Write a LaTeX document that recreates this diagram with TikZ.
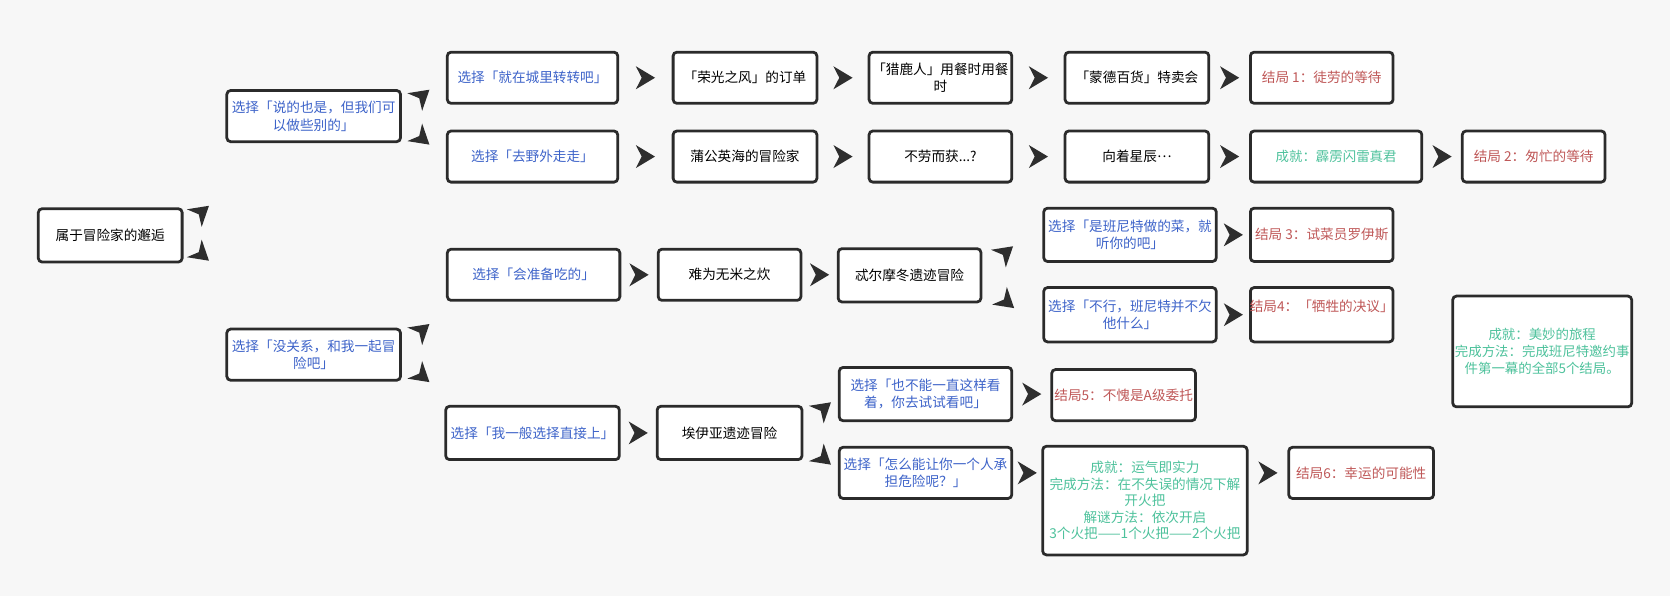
\documentclass[tikz,border=0pt]{standalone}
\usepackage{fontspec}
\setmainfont{Noto Sans CJK SC}
\usetikzlibrary{decorations.markings}
\definecolor{bgc}{HTML}{F7F7F7}
\definecolor{boxc}{HTML}{2B2B2B}
\definecolor{arrc}{HTML}{2E2E2E}
\definecolor{bluec}{HTML}{3D63C9}
\definecolor{redc}{HTML}{BF5858}
\definecolor{greenc}{HTML}{4EC29C}
\newcommand{\tipfill}{\fill[arrc] (9pt,0pt) -- (-9pt,10.8pt) -- (-3.5pt,0pt) -- (-9pt,-10.8pt) -- cycle;}
\newcommand{\fitln}[1]{\makebox[100pt]{#1}}
\tikzset{
  box/.style={draw=boxc, line width=2.6pt, rounded corners=3.5pt, fill=white,
    align=center, inner sep=1pt, text=black,
    font=\fontsize{12.8}{16.5}\selectfont},
  choice/.style={box, text=bluec},
  ending/.style={box, text=redc},
  achv/.style={box, text=greenc, font=\fontsize{12.6}{16}\selectfont},
  harr/.style={postaction={decorate}, decoration={markings,
    mark=at position #1 with {\tipfill}}},
  harr/.default=0.5,
  darr/.style n args={3}{postaction={decorate}, decoration={markings,
    mark=at position 0 with {\pgftransformresetnontranslations
      \pgftransformshift{\pgfpoint{#1pt}{#2pt}}\pgftransformrotate{#3}\tipfill}}}
}
\begin{document}
\begin{tikzpicture}[x=1pt,y=-1pt]
\path[use as bounding box, fill=bgc] (0,0) rectangle (1568,560);

% root and first choices
\node[box, minimum width=135pt, minimum height=50pt] (root) at (103.5,221) {属于冒险家的邂逅};
\node[choice, minimum width=163pt, minimum height=48pt] (c1) at (294.5,109) {\fitln{选择「说的也是，但我们可}\\以做些别的」};
\node[choice, minimum width=163pt, minimum height=48pt] (c2) at (294.5,333) {\fitln{选择「没关系，和我一起冒}\\险吧」};

% top branch
\node[choice, minimum width=160pt, minimum height=48pt] (a1) at (500,73) {选择「就在城里转转吧」};
\node[choice, minimum width=160pt, minimum height=48pt] (a2) at (500,147) {选择「去野外走走」};
\node[box, minimum width=135pt, minimum height=48pt] (t1) at (699.5,73) {「荣光之风」的订单};
\node[box, minimum width=134pt, minimum height=48pt] (t2) at (883,73) {\fitln{「猎鹿人」用餐时用餐}\\时};
\node[box, minimum width=135pt, minimum height=48pt] (t3) at (1067.5,73) {「蒙德百货」特卖会};
\node[ending, minimum width=134pt, minimum height=48pt] (t4) at (1241,73) {\fitln{结局 1：徒劳的等待}};
\node[box, minimum width=135pt, minimum height=48pt] (s1) at (699.5,147) {蒲公英海的冒险家};
\node[box, minimum width=134pt, minimum height=48pt] (s2) at (883,147) {不劳而获...?};
\node[box, minimum width=135pt, minimum height=48pt] (s3) at (1067.5,147) {向着星辰\raisebox{0.3em}{…}};
\node[achv, minimum width=161pt, minimum height=48pt] (s4) at (1254.5,147) {成就：霹雳闪雷真君};
\node[ending, minimum width=134pt, minimum height=48pt] (s5) at (1440,147) {\fitln{结局 2：匆忙的等待}};

% middle branch
\node[choice, minimum width=162pt, minimum height=48pt] (b1) at (501,258) {选择「会准备吃的」};
\node[box, minimum width=134pt, minimum height=48pt] (b2) at (685,258) {难为无米之炊};
\node[box, minimum width=134pt, minimum height=50pt] (b3) at (854,258.5) {忒尔摩冬遗迹冒险};
\node[choice, minimum width=162pt, minimum height=50pt] (b4) at (1061,220.5) {\fitln{选择「是班尼特做的菜，就}\\听你的吧」};
\node[ending, minimum width=134pt, minimum height=50pt] (b5) at (1241,220.5) {\fitln{结局 3：试菜员罗伊斯}};
\node[choice, minimum width=162pt, minimum height=51pt] (b6) at (1061,295.5) {\fitln{选择「不行，班尼特并不欠}\\他什么」};
\node[ending, minimum width=134pt, minimum height=51pt] (b7) at (1241,295.5) {\fitln{结局4：「牺牲的决议」}\\\mbox{}};
\node[achv, minimum width=168pt, minimum height=104pt] (ach) at (1448,330) {成就：美妙的旅程\\\fitln{完成方法：完成班尼特邀约事}\\件第一幕的全部5个结局。};

% bottom branch
\node[choice, minimum width=163pt, minimum height=50pt] (d1) at (500,406.5) {选择「我一般选择直接上」};
\node[box, minimum width=136pt, minimum height=50pt] (d2) at (685,406.5) {埃伊亚遗迹冒险};
\node[choice, minimum width=162pt, minimum height=50pt] (d3) at (869,370) {\fitln{选择「也不能一直这样看}\\着，你去试试看吧」};
\node[ending, minimum width=135pt, minimum height=48pt] (d4) at (1055,371) {\fitln{结局5：不愧是A级委托}};
\node[choice, minimum width=162pt, minimum height=48pt] (d5) at (869,444) {\fitln{选择「怎么能让你一个人承}\\担危险呢？」};
\node[achv, minimum width=192pt, minimum height=102pt, font=\fontsize{12.8}{15.5}\selectfont] (d6) at (1075,470) {成就：运气即实力\\\fitln{完成方法：在不失误的情况下解}\\开火把\\解谜方法：依次开启\\\fitln{3个火把——1个火把——2个火把}};
\node[ending, minimum width=136pt, minimum height=48pt] (d7) at (1278,444) {结局6：幸运的可能性};

% diagonal connectors
\path[darr={17}{22}{40}] (root.east) -- (c1.west);
\path[darr={17}{-18}{-40}] (root.east) -- (c2.west);
\path[darr={19}{19}{40}] (c1.east) -- (a1.west);
\path[darr={19}{-21}{-40}] (c1.east) -- (a2.west);
\path[darr={19}{23}{40}] (c2.east) -- (b1.west);
\path[darr={19}{-20}{-40}] (c2.east) -- (d1.west);
\path[darr={22}{21.5}{40}] (b3.east) -- (b4.west);
\path[darr={23}{-25}{-40}] (b3.east) -- (b6.west);
\path[darr={19}{23}{40}] (d2.east) -- (d3.west);
\path[darr={19}{-24}{-40}] (d2.east) -- (d5.west);

% horizontal connectors
\path[harr] (a1.east) -- (t1.west);
\path[harr] (t1.east) -- (t2.west);
\path[harr] (t2.east) -- (t3.west);
\path[harr] (t3.east) -- (t4.west);
\path[harr] (a2.east) -- (s1.west);
\path[harr] (s1.east) -- (s2.west);
\path[harr] (s2.east) -- (s3.west);
\path[harr] (s3.east) -- (s4.west);
\path[harr] (s4.east) -- (s5.west);
\path[harr] (b1.east) -- (b2.west);
\path[harr] (b2.east) -- (b3.west |- b2.east);
\path[harr] (b4.east) -- (b5.west);
\path[harr] (b6.east) -- (b7.west);
\path[harr] (d1.east) -- (d2.west);
\path[harr] (d3.east) -- (d4.west |- d3.east);
\path[harr] (d5.east) -- (d6.west |- d5.east);
\path[harr] (d6.east |- d7.west) -- (d7.west);
\end{tikzpicture}
\end{document}
